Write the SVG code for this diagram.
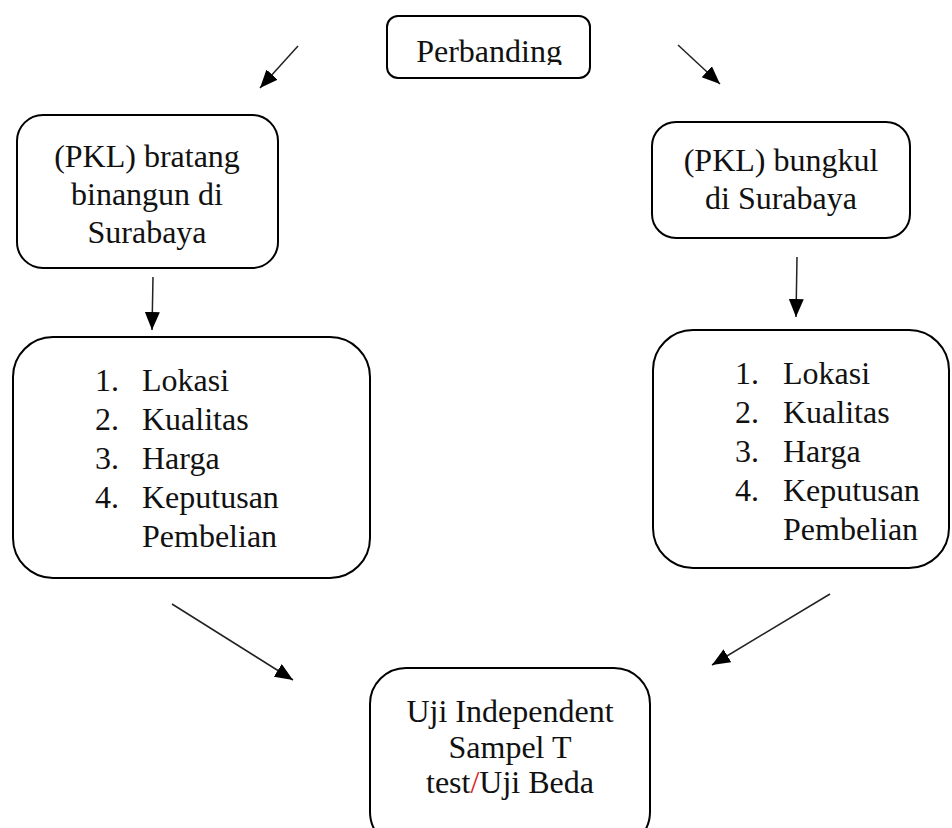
<svg xmlns="http://www.w3.org/2000/svg" width="952" height="828" viewBox="0 0 952 828">
<style>
.box{fill:#fff;stroke:#000;stroke-width:2}
.t{font-family:"Liberation Serif","Times New Roman",serif;font-size:32px;fill:#111}
.c{text-anchor:middle}
.arr{stroke:#222;stroke-width:1.5;fill:none;marker-end:url(#ah)}
</style>
<defs>
<marker id="ah" markerUnits="userSpaceOnUse" markerWidth="20" markerHeight="16" refX="18" refY="7.5" orient="auto">
<path d="M0,0 L18,7.5 L0,15 Z" fill="#000"/>
</marker>
<clipPath id="clipP"><rect x="387" y="16" width="203" height="49"/></clipPath>
</defs>
<rect width="952" height="828" fill="#fff"/>
<g id="n-perbanding">
<rect class="box" x="387" y="16" width="203" height="62" rx="11"/>
<text class="t c" x="489" y="62" clip-path="url(#clipP)">Perbanding</text>
</g>
<g id="n-bratang">
<rect class="box" x="17" y="115" width="261" height="153" rx="26"/>
<text class="t c" x="147" y="167">(PKL) bratang</text>
<text class="t c" x="147" y="205">binangun di</text>
<text class="t c" x="147" y="243">Surabaya</text>
</g>
<g id="n-bungkul">
<rect class="box" x="652" y="122" width="258" height="116" rx="24"/>
<text class="t c" x="781" y="171">(PKL) bungkul</text>
<text class="t c" x="781" y="209">di Surabaya</text>
</g>
<g id="n-list-left">
<rect class="box" x="13" y="337" width="357" height="241" rx="40"/>
<text class="t" x="95" y="391">1.</text><text class="t" x="142" y="391">Lokasi</text>
<text class="t" x="95" y="430">2.</text><text class="t" x="142" y="430">Kualitas</text>
<text class="t" x="95" y="469">3.</text><text class="t" x="142" y="469">Harga</text>
<text class="t" x="95" y="508">4.</text><text class="t" x="142" y="508">Keputusan</text>
<text class="t" x="142" y="547">Pembelian</text>
</g>
<g id="n-list-right">
<rect class="box" x="653" y="330" width="296" height="238" rx="40"/>
<text class="t" x="735" y="384">1.</text><text class="t" x="783" y="384">Lokasi</text>
<text class="t" x="735" y="423">2.</text><text class="t" x="783" y="423">Kualitas</text>
<text class="t" x="735" y="462">3.</text><text class="t" x="783" y="462">Harga</text>
<text class="t" x="735" y="501">4.</text><text class="t" x="783" y="501">Keputusan</text>
<text class="t" x="783" y="540">Pembelian</text>
</g>
<g id="n-uji">
<rect class="box" x="370" y="668" width="280" height="180" rx="36"/>
<text class="t c" x="510" y="722">Uji Independent</text>
<text class="t c" x="510" y="758">Sampel T</text>
<text class="t c" x="510" y="793">test<tspan fill="#e02020">/</tspan>Uji Beda</text>
</g>
<g id="connectors">
<line class="arr" x1="298" y1="46" x2="260" y2="88"/>
<line class="arr" x1="678" y1="45" x2="720" y2="84"/>
<line class="arr" x1="153" y1="277" x2="152" y2="330"/>
<line class="arr" x1="797" y1="257" x2="796" y2="317"/>
<line class="arr" x1="172" y1="604" x2="293" y2="680"/>
<line class="arr" x1="830" y1="594" x2="712" y2="665"/>
</g>
</svg>
